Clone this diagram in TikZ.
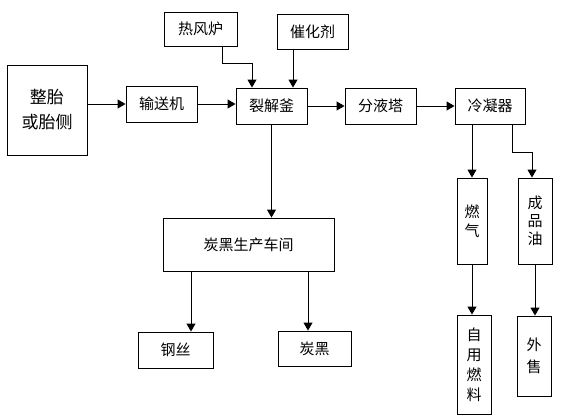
\documentclass[tikz,border=0pt]{standalone}
\usepackage{fontspec}
\setmainfont{Noto Sans CJK SC}
\usetikzlibrary{arrows.meta}
\tikzset{
  box/.style={draw, line width=0.9pt, inner sep=0pt, align=center, font=\fontsize{15}{19}\selectfont},
  arr/.style={draw, line width=0.9pt, -{Triangle[length=8pt,width=9pt]}},
  ln/.style={draw, line width=0.9pt}
}
\begin{document}
\begin{tikzpicture}[x=1pt,y=-1pt]
\useasboundingbox (0,0) rectangle (563,415);
\node[box, minimum width=80pt, minimum height=90pt, font=\fontsize{17}{25}\selectfont] (src) at (47,110) {整胎\\或胎侧};
\node[box, minimum width=71pt, minimum height=36pt] (conv) at (161.5,104) {输送机};
\node[box, minimum width=71pt, minimum height=36pt] (crack) at (271.5,106) {裂解釜};
\node[box, minimum width=73pt, minimum height=34pt] (hot) at (200.5,29) {热风炉};
\node[box, minimum width=71pt, minimum height=35pt] (cat) at (312.5,31.5) {催化剂};
\node[box, minimum width=71pt, minimum height=36pt] (sep) at (380.5,106) {分液塔};
\node[box, minimum width=70pt, minimum height=36pt] (cond) at (490,106) {冷凝器};
\node[box, minimum width=30pt, minimum height=86pt] (gas) at (472,221) {燃\\气};
\node[box, minimum width=34pt, minimum height=86pt, font=\fontsize{15}{18}\selectfont] (oil) at (535,221) {成\\品\\油};
\node[box, minimum width=34pt, minimum height=99pt, font=\fontsize{15}{20}\selectfont, text depth=0pt] (self) at (474,364.5) {自\\用\\燃\\料};
\node[box, minimum width=34pt, minimum height=80pt, font=\fontsize{15}{22}\selectfont] (sell) at (534,356) {外\\售};
\node[box, minimum width=171pt, minimum height=53pt] (cb) at (248.5,244.5) {炭黑生产车间};
\node[box, minimum width=75pt, minimum height=36pt] (steel) at (175.5,350) {钢丝};
\node[box, minimum width=73pt, minimum height=35pt] (carbon) at (314.5,348.5) {炭黑};
\coordinate (hk) at (252,63);
\coordinate (oc) at (532,152);
\draw[arr] (src.east |- conv.west) -- (conv.west);
\draw[arr] (conv.east) -- (conv.east -| crack.west);
\draw[arr] (crack.east) -- (sep.west);
\draw[arr] (sep.east) -- (cond.west);
\draw[arr] ([xshift=21.5pt]hot.south) |- (hk) -- (hk |- crack.north);
\draw[arr] ([xshift=-19.5pt]cat.south) -- ([xshift=-19.5pt]cat.south |- crack.north);
\draw[arr] (crack.south) -- (crack.south |- cb.north);
\draw[arr] (gas.north |- cond.south) -- (gas.north);
\draw[arr] ([xshift=22pt]cond.south) |- (oc) -- (oc |- oil.north);
\draw[arr] (gas.south) -- (gas.south |- self.north);
\draw[arr] (oil.south) -- (oil.south |- sell.north);
\draw[arr] ([xshift=15.5pt]steel.north |- cb.south) -- ([xshift=15.5pt]steel.north);
\draw[arr] ([xshift=-6.5pt]carbon.north |- cb.south) -- ([xshift=-6.5pt]carbon.north);
\end{tikzpicture}
\end{document}
